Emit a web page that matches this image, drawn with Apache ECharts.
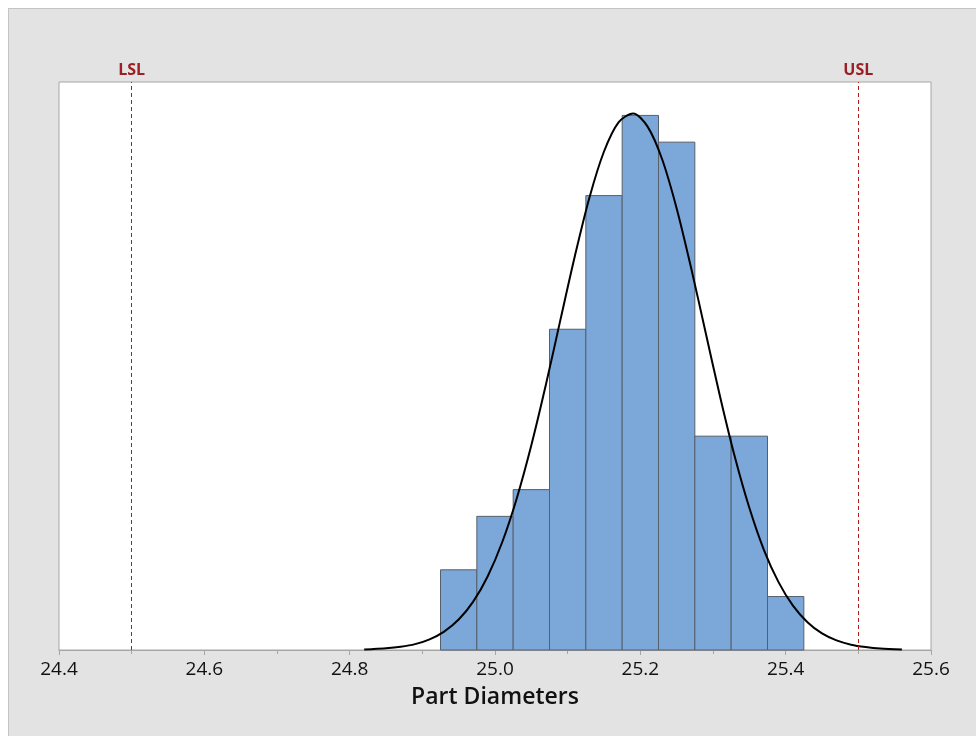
<!DOCTYPE html>
<html>
<head>
<meta charset="utf-8">
<script src="https://cdn.jsdelivr.net/npm/echarts@6/dist/echarts.min.js"></script>
<style>
  html, body { margin: 0; padding: 0; background: #ffffff; }
  #frame { position: absolute; left: 8px; top: 8px; width: 967px; height: 727px;
           background: #e3e3e3; border-top: 1px solid #c4c4c4; border-left: 1px solid #c4c4c4; }
  #chart { position: absolute; left: 0; top: 0; width: 976px; height: 736px; }
</style>
</head>
<body>
<div id="frame"></div>
<div id="chart"></div>
<script>
// ---- data ----
const binStarts = [24.925, 24.975, 25.025, 25.075, 25.125, 25.175, 25.225, 25.275, 25.325, 25.375];
const binWidth = 0.05;
const counts = [3, 5, 6, 12, 17, 20, 19, 8, 8, 2];

const curveX = [24.82, 24.83, 24.85, 24.87, 24.89, 24.91, 24.93, 24.95, 24.97, 24.99,
                25.01, 25.03, 25.05, 25.07, 25.09, 25.11, 25.13, 25.15, 25.17, 25.19,
                25.21, 25.23, 25.25, 25.27, 25.29, 25.31, 25.33, 25.35, 25.37, 25.39,
                25.41, 25.43, 25.45, 25.47, 25.49, 25.51, 25.53, 25.56];
const curveY = [0.022, 0.031, 0.062, 0.12, 0.22, 0.40, 0.69, 1.14, 1.81, 2.76,
                4.04, 5.68, 7.66, 9.92, 12.35, 14.75, 16.93, 18.65, 19.74, 20.07,
                19.58, 18.36, 16.52, 14.28, 11.86, 9.45, 7.23, 5.32, 3.75, 2.55,
                1.66, 1.04, 0.62, 0.36, 0.20, 0.11, 0.054, 0.019];

const specNames = ['LSL', 'USL'];
const specValues = [24.5, 25.5];

const xMin = 24.4, xMax = 25.6, xStep = 0.2;
const xTitle = 'Part Diameters';

// ---- chart ----
const chart = echarts.init(document.getElementById('chart'), null, { renderer: 'canvas' });

const histData = binStarts.map((s, i) => [s, s + binWidth, counts[i]]);
const curveData = curveX.map((x, i) => [x, curveY[i]]);

const option = {
  backgroundColor: 'transparent',
  animation: false,
  grid: {
    left: 59, top: 82, width: 872, height: 568,
    show: true, backgroundColor: '#ffffff', borderColor: '#a6a6a6', borderWidth: 1
  },
  xAxis: {
    type: 'value', min: xMin, max: xMax, interval: xStep,
    name: xTitle, nameLocation: 'middle', nameGap: 36,
    nameTextStyle: { fontFamily: 'Open Sans', fontSize: 23, fontWeight: 600, color: '#111' },
    axisLine: { show: true, lineStyle: { color: '#a6a6a6', width: 1 } },
    axisTick: { show: true, length: 5, lineStyle: { color: '#a6a6a6' } },
    minorTick: { show: true, splitNumber: 2, length: 4, lineStyle: { color: '#a6a6a6' } },
    splitLine: { show: false },
    axisLabel: {
      margin: 10, fontFamily: 'Open Sans', fontSize: 19, color: '#111',
      formatter: v => v.toFixed(1)
    }
  },
  yAxis: {
    type: 'value', min: 0, max: 21.25, show: false
  },
  series: [
    {
      type: 'custom',
      data: histData,
      renderItem: function (params, api) {
        const p0 = api.coord([api.value(0), api.value(2)]);
        const p1 = api.coord([api.value(1), 0]);
        return {
          type: 'rect',
          shape: { x: p0[0], y: p0[1], width: p1[0] - p0[0], height: p1[1] - p0[1] },
          style: { fill: '#7ba7d9', stroke: '#56606c', lineWidth: 1 }
        };
      },
      encode: { x: [0, 1], y: 2 },
      z: 2
    },
    {
      type: 'line',
      data: curveData,
      smooth: 0.3,
      showSymbol: false,
      symbol: 'none',
      lineStyle: { color: '#000000', width: 2 },
      z: 3,
      markLine: {
        silent: true,
        symbol: ['none', 'none'],
        lineStyle: { color: '#b01c1c', type: [4, 3], width: 1 },
        label: {
          show: true, position: 'end', distance: 4,
          formatter: p => p.name,
          fontFamily: 'Open Sans', fontSize: 16, fontWeight: 700, color: '#9b1f24'
        },
        data: specNames.map((n, i) => ({ name: n, xAxis: specValues[i] }))
      }
    }
  ]
};
chart.setOption(option);
</script>
</body>
</html>
